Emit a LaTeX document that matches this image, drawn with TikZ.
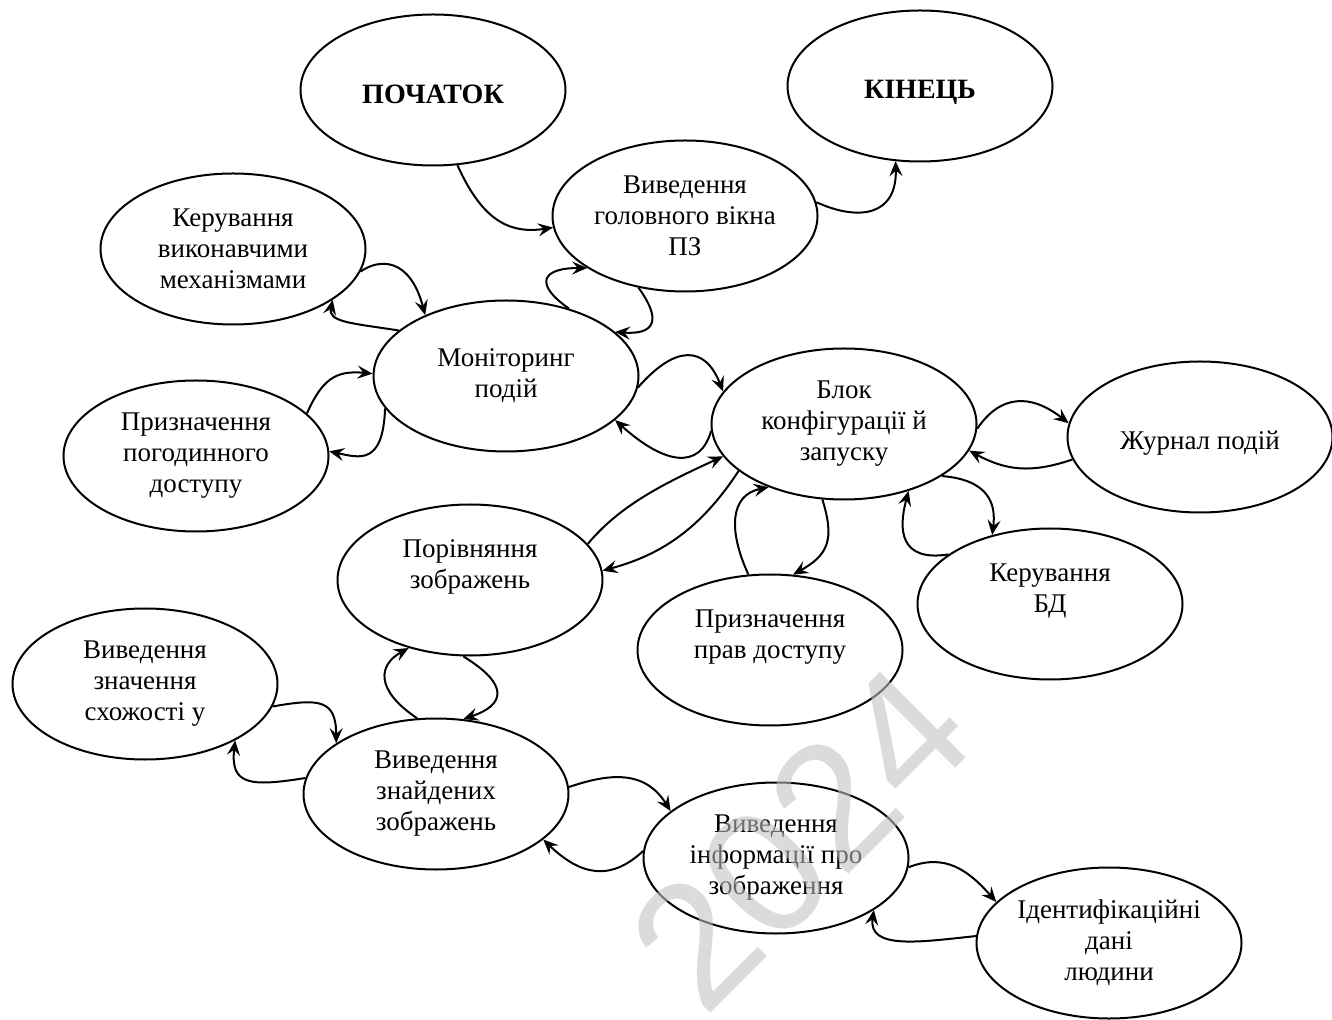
\documentclass[tikz,border=0pt]{standalone}
\usepackage{fontspec}
\setmainfont{Liberation Serif}
\newfontfamily\wmfont{Liberation Sans}
\usetikzlibrary{shapes.geometric,arrows.meta}
\definecolor{wmgray}{RGB}{193,193,193}
\begin{document}
\begin{tikzpicture}[x=0.5pt,y=-0.5pt,
  blk/.style={draw, ellipse, line width=1pt, minimum width=132.5pt, minimum height=75.5pt,
    inner sep=0pt, align=center, font=\fontsize{13.5}{15.5}\selectfont},
  ttl/.style={font=\fontsize{14}{15.5}\selectfont\bfseries},
  con/.style={line width=1pt, -{Stealth[length=7.5pt,width=6.5pt,inset=2.8pt]}},
  wmark/.style={rotate=45, text=wmgray, opacity=0.57, inner sep=0pt,
    font=\wmfont\fontsize{88}{88}\selectfont}
]
\fill[white] (0,0) rectangle (1332,1020);
\useasboundingbox (0,0) rectangle (1332,1020);

\node[blk,ttl] (S) at (433,90) {\mbox{}\\[-2.3pt]ПОЧАТОК};
\node[blk,ttl] (E) at (920,86) {\mbox{}\\ КІНЕЦЬ};
\node[blk] (W) at (685,216) {Виведення\\головного вікна\\ПЗ};
\node[blk] (K) at (233,249) {Керування\\виконавчими\\механізмами};
\node[blk] (P) at (196,456) {Призначення\\погодинного\\доступу};
\node[blk] (M) at (506,376) {Моніторинг\\подій};
\node[blk] (B) at (844,424) {Блок\\конфігурації й\\запуску};
\node[blk] (J) at (1200,437) {\mbox{}\\Журнал подій};
\node[blk] (C) at (470,580) {Порівняння\\зображень\\\mbox{}};
\node[blk] (R) at (770,650) {Призначення\\прав доступу\\\mbox{}};
\node[blk] (D) at (1050,604) {Керування\\БД\\\mbox{}};
\node[blk] (V) at (145,684) {Виведення\\значення\\схожості у};
\node[blk] (F) at (436,794) {Виведення\\знайдених\\зображень};
\node[blk] (I) at (776,858) {Виведення\\інформації про\\зображення};
\node[blk] (H) at (1109,943) {Ідентифікаційні\\дані\\людини};

\draw[con] (S.-72) .. controls (480,215) and (505,235) .. (W.185);
\draw[con] (W.6) .. controls (860,222) and (897,215) .. (E.252);
\draw[con] (K.-10) .. controls (380,258) and (410,258) .. (M.143);
\draw[con] (M.157) .. controls (350,323) and (328,322) .. (K.-27);
\draw[con] (P.21) .. controls (322,380) and (335,370) .. (M.179);
\draw[con] (M.195) .. controls (383,465) and (360,458) .. (P.2);
\draw[con] (M.47) .. controls (535,285) and (540,268) .. (W.208);
\draw[con] (W.237) .. controls (662,320) and (655,335) .. (M.22);
\draw[con] (M.-5) .. controls (675,345) and (705,345) .. (B.165);
\draw[con] (B.183) .. controls (700,470) and (665,465) .. (M.-22);
\draw[con] (C.17) .. controls (620,505) and (665,483) .. (B.195);
\draw[con] (B.204) .. controls (700,530) and (660,555) .. (C.4);
\draw[con] (R.106) .. controls (728,530) and (730,495) .. (B.220);
\draw[con] (B.254) .. controls (835,540) and (828,555) .. (R.73);
\draw[con] (D.154) .. controls (900,562) and (898,530) .. (B.-46);
\draw[con] (B.-28) .. controls (990,480) and (996,505) .. (D.130);
\draw[con] (B.-2) .. controls (1000,395) and (1030,393) .. (J.174);
\draw[con] (J.190) .. controls (1030,474) and (1005,470) .. (B.-12);
\draw[con] (C.265) .. controls (510,685) and (505,705) .. (F.70);
\draw[con] (F.104) .. controls (375,690) and (378,665) .. (C.228);
\draw[con] (V.-10) .. controls (320,698) and (336,700) .. (F.153);
\draw[con] (F.173) .. controls (250,787) and (230,785) .. (V.-32);
\draw[con] (F.3) .. controls (610,773) and (645,770) .. (I.156);
\draw[con] (I.177) .. controls (610,882) and (580,875) .. (F.-23);
\draw[con] (I.-4) .. controls (945,853) and (968,870) .. (H.160);
\draw[con] (H.177) .. controls (920,942) and (868,950) .. (I.-28);

\node[wmark] (wm) at (800,838) {2024};
\end{tikzpicture}
\end{document}
